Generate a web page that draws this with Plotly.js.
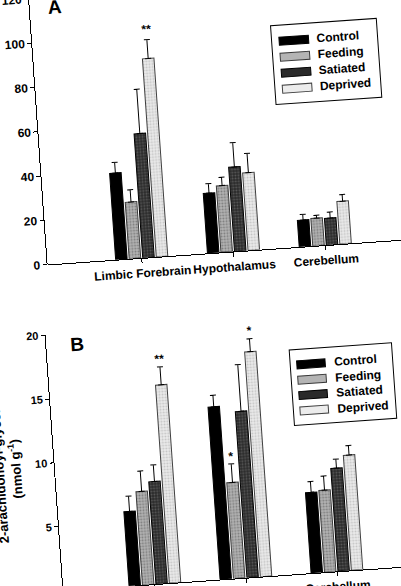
<!DOCTYPE html>
<html><head><meta charset="utf-8">
<script src="https://cdn.plot.ly/plotly-3.0.1.min.js"></script>
<style>
html,body{margin:0;padding:0;width:401px;height:586px;overflow:hidden;background:#fff;}
#chart{position:absolute;left:-20px;top:-40px;width:460px;height:680px;transform:rotate(-4deg);transform-origin:220.5px 333px;}
</style></head><body><div id="chart"></div>
<script>
// ---- data ----
const regions = ['Limbic Forebrain', 'Hypothalamus', 'Cerebellum'];
const groups = ['Control', 'Feeding', 'Satiated', 'Deprived'];

// Panel A
const aControl = [39, 27, 12];
const aControlErr = [4.8, 4.3, 2.5];
const aFeeding = [25.5, 30, 12.4];
const aFeedingErr = [5.5, 3.8, 1.3];
const aSatiated = [56, 38, 12];
const aSatiatedErr = [20, 11, 2.7];
const aDeprived = [89.5, 35, 19.2];
const aDeprivedErr = [8.5, 8.7, 3];

// Panel B: 2-arachidonoyl-glycerol (nmol g-1)
const bControl = [5.8, 13.5, 6.3];
const bControlErr = [1.2, 0.9, 0.85];
const bFeeding = [7.3, 7.5, 6.4];
const bFeedingErr = [1.6, 1.45, 1.1];
const bSatiated = [8.0, 13.0, 8.05];
const bSatiatedErr = [1.3, 3.65, 0.7];
const bDeprived = [15.5, 17.6, 9.0];
const bDeprivedErr = [1.4, 1.0, 0.75];

const aTicks = [0, 20, 40, 60, 80, 100, 120];
const bTicks = [0, 5, 10, 15, 20];

// significance marks: [panel, region index, group index, label]
const sigMarks = [
  ['A', 0, 3, '**'],
  ['B', 0, 3, '**'],
  ['B', 1, 1, '*'],
  ['B', 1, 3, '*']
];

// ---- styling ----
const FONT = '"Liberation Sans", Arial, Helvetica, sans-serif';
const styles = {
  Control:  {bg: '#000000', fg: '#000000', line: '#000000'},
  Feeding:  {bg: '#b4b4b4', fg: '#7c7c7c', line: '#3a3a3a'},
  Satiated: {bg: '#2a2a2a', fg: '#5a5a5a', line: '#000000'},
  Deprived: {bg: '#ececec', fg: '#c4c4c4', line: '#404040'}
};

const W = 460, H = 680, OX = 20, OY = 40;
const fx = x => (x + OX) / W;
const fy = y => 1 - (y + OY) / H;

const BARGAP = 0.41, GROUPGAP = 0.15;
const slot = (1 - BARGAP) / groups.length;
const offsetOf = g => -(1 - BARGAP) / 2 + (g + 0.5) * slot;

const dataA = {Control: [aControl, aControlErr], Feeding: [aFeeding, aFeedingErr],
               Satiated: [aSatiated, aSatiatedErr], Deprived: [aDeprived, aDeprivedErr]};
const dataB = {Control: [bControl, bControlErr], Feeding: [bFeeding, bFeedingErr],
               Satiated: [bSatiated, bSatiatedErr], Deprived: [bDeprived, bDeprivedErr]};

function mkTrace(name, vals, errs, xa, ya) {
  const s = styles[name];
  return {
    type: 'bar', name: name, x: regions, y: vals, xaxis: xa, yaxis: ya,
    showlegend: false,
    marker: {
      color: s.bg,
      line: {color: s.line, width: 1},
      pattern: name === 'Control' ? {shape: ''} :
        {shape: '.', bgcolor: s.bg, fgcolor: s.fg, size: 3, solidity: 0.35}
    },
    error_y: {type: 'data', symmetric: false, array: errs, arrayminus: errs.map(() => 0),
              color: '#000', thickness: 1, width: 3},
    hoverinfo: 'skip'
  };
}

const traces = [];
groups.forEach(g => traces.push(mkTrace(g, dataA[g][0], dataA[g][1], 'x', 'y')));
groups.forEach(g => traces.push(mkTrace(g, dataB[g][0], dataB[g][1], 'x2', 'y2')));

const tickFontA = {family: FONT, size: 12, color: '#000', weight: 'bold'};
const tickFontB = {family: FONT, size: 11, color: '#000', weight: 'bold'};

const axisCommon = {
  showline: true, linecolor: '#000', linewidth: 1, ticks: 'outside', ticklen: 4,
  tickcolor: '#000', tickwidth: 1, showgrid: false, zeroline: false, fixedrange: true,
  tickangle: 0
};

const shapes = [];
const annotations = [];

function legend(box, swX0, swX1, textX, row0, rowStep) {
  shapes.push({type: 'rect', xref: 'paper', yref: 'paper',
    x0: fx(box[0]), x1: fx(box[1]), y0: fy(box[2]), y1: fy(box[3]),
    line: {color: '#000', width: 1}, fillcolor: 'rgba(255,255,255,0)'});
  groups.forEach((g, i) => {
    const cy = row0 + i * rowStep;
    shapes.push({type: 'rect', xref: 'paper', yref: 'paper',
      x0: fx(swX0), x1: fx(swX1), y0: fy(cy - 4), y1: fy(cy + 4),
      fillcolor: styles[g].bg, line: {color: styles[g].line, width: 1}});
    annotations.push({xref: 'paper', yref: 'paper', x: fx(textX), y: fy(cy),
      xanchor: 'left', yanchor: 'middle', showarrow: false, text: g,
      font: {family: FONT, size: 12, color: '#000', weight: 'bold'}});
  });
}
legend([289, 395, 31.3, 110.3], 296.5, 326, 332, 47.4, 16.0);
legend([285, 387.5, 356, 431.7], 291.6, 320, 326.6, 371.4, 15.4);

annotations.push({xref: 'paper', yref: 'paper', x: fx(75.3), y: fy(-2.5), xanchor: 'center',
  yanchor: 'middle', showarrow: false, text: 'A',
  font: {family: FONT, size: 19, color: '#000', weight: 'bold'}});
annotations.push({xref: 'paper', yref: 'paper', x: fx(74), y: fy(335.3), xanchor: 'center',
  yanchor: 'middle', showarrow: false, text: 'B',
  font: {family: FONT, size: 19, color: '#000', weight: 'bold'}});

annotations.push({xref: 'paper', yref: 'paper', x: fx(-4), y: fy(456), xanchor: 'center',
  yanchor: 'middle', showarrow: false, textangle: -90,
  text: '2-arachidonoyl-glycerol<br>(nmol g<sup>-1</sup>)',
  font: {family: FONT, size: 13, color: '#000', weight: 'bold'}});

sigMarks.forEach(([panel, r, g, label]) => {
  const d = panel === 'A' ? dataA : dataB;
  const name = groups[g];
  annotations.push({xref: panel === 'A' ? 'x' : 'x2', yref: panel === 'A' ? 'y' : 'y2',
    x: r + offsetOf(g), y: d[name][0][r] + d[name][1][r],
    xanchor: 'center', yanchor: 'bottom', showarrow: false, text: label,
    yshift: panel === 'A' ? 2 : -1,
    font: {family: FONT, size: 12, color: '#000', weight: 'bold'}});
});

const layout = {
  width: W, height: H,
  margin: {l: 0, r: 0, t: 0, b: 0},
  paper_bgcolor: '#fff', plot_bgcolor: 'rgba(0,0,0,0)',
  barmode: 'group', bargap: BARGAP, bargroupgap: GROUPGAP,
  showlegend: false,
  font: {family: FONT, color: '#000'},
  xaxis: Object.assign({}, axisCommon, {type: 'category', domain: [fx(50), 1],
    range: [-1.025, 3.214], anchor: 'y', tickfont: tickFontA}),
  yaxis: Object.assign({}, axisCommon, {domain: [fy(253.9), fy(-12.3)], range: [0, 120],
    tickvals: aTicks, anchor: 'x', tickfont: tickFontA}),
  xaxis2: Object.assign({}, axisCommon, {type: 'category', domain: [fx(43), 1],
    range: [-1.005, 3.346], anchor: 'y2', tickfont: tickFontA}),
  yaxis2: Object.assign({}, axisCommon, {domain: [fy(580.2), fy(324.2)], range: [0, 20],
    tickvals: bTicks, anchor: 'x2', tickfont: tickFontB}),
  shapes: shapes,
  annotations: annotations
};

Plotly.newPlot('chart', traces, layout, {displayModeBar: false, staticPlot: true});
</script></body></html>
